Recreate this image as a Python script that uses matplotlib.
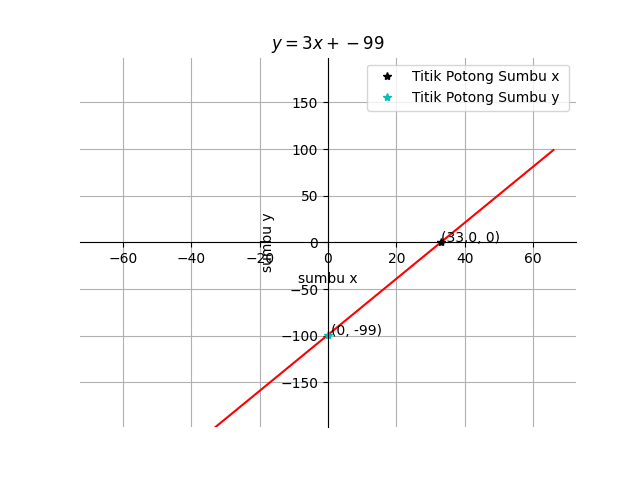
import numpy as np
import matplotlib

matplotlib.use("Agg")
import matplotlib.pyplot as plt

# y = m*x + c
m = 3
c = -99
x_line = np.array([-33, 66])
y_line = m * x_line + c
x_int = [33.0]
y_int = [0]
x_yint = [0]
y_yint = [-99]

fig, ax = plt.subplots(figsize=(6.4, 4.8), dpi=100)
ax.spines["left"].set_position("zero")
ax.spines["bottom"].set_position("zero")
ax.spines["right"].set_visible(False)
ax.spines["top"].set_visible(False)

ax.plot(x_line, y_line, "r-")
ax.plot(x_int, y_int, "k*", label="Titik Potong Sumbu x ")
ax.plot(x_yint, y_yint, "c*", label="Titik Potong Sumbu y ")
ax.text(x_int[0], y_int[0], f"({x_int[0]}, {y_int[0]})")
ax.annotate(f"({x_yint[0]}, {y_yint[0]})", (x_yint[0], y_yint[0]),
            xytext=(2, 0), textcoords="offset points")

ax.set_xlim(-72.6, 72.6)
ax.set_ylim(-198, 198)
ax.set_xlabel("sumbu x")
ax.set_ylabel("sumbu y")
ax.set_title(f"$y = {m}x + {c}$")
ax.grid(True)
ax.legend(loc="upper right")

fig.savefig("out.png")
